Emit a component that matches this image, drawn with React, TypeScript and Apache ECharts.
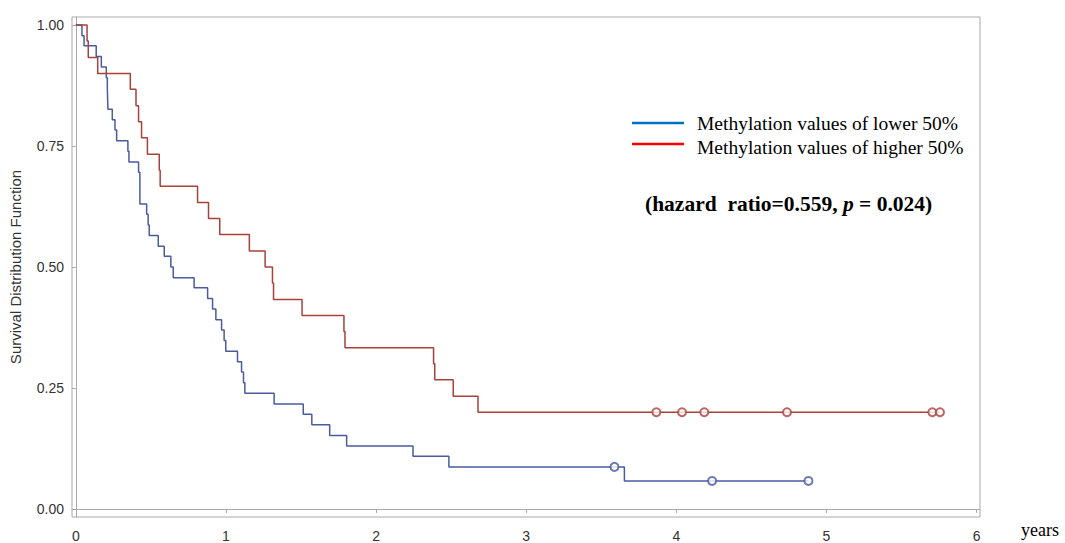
import React, { useEffect, useRef } from "react";
import * as echarts from "echarts";

// Kaplan–Meier curves (time in years, survival after each drop)
const lowerEventTimes = [0.041, 0.055, 0.136, 0.170, 0.203, 0.210, 0.214, 0.243, 0.261, 0.272, 0.347, 0.354, 0.418, 0.427, 0.472, 0.482, 0.489, 0.549, 0.589, 0.633, 0.649, 0.788, 0.878, 0.911, 0.933, 0.971, 0.988, 0.999, 1.077, 1.104, 1.117, 1.126, 1.321, 1.515, 1.572, 1.691, 1.804, 2.246, 2.485, 3.654];
const lowerEventSurv = [0.978, 0.957, 0.935, 0.913, 0.891, 0.870, 0.826, 0.804, 0.783, 0.761, 0.739, 0.717, 0.696, 0.630, 0.609, 0.587, 0.565, 0.543, 0.522, 0.500, 0.478, 0.457, 0.435, 0.413, 0.391, 0.370, 0.348, 0.326, 0.304, 0.283, 0.261, 0.239, 0.217, 0.196, 0.174, 0.152, 0.130, 0.109, 0.087, 0.058];
const lowerCensorTimes = [3.588, 4.238, 4.880];
const lowerCensorSurv = [0.087, 0.058, 0.058];

const higherEventTimes = [0.075, 0.083, 0.146, 0.363, 0.401, 0.418, 0.438, 0.477, 0.556, 0.562, 0.811, 0.884, 0.959, 1.156, 1.261, 1.310, 1.317, 1.507, 1.786, 1.793, 2.383, 2.391, 2.514, 2.679];
const higherEventSurv = [0.967, 0.933, 0.900, 0.867, 0.833, 0.800, 0.767, 0.733, 0.700, 0.667, 0.633, 0.600, 0.567, 0.533, 0.500, 0.467, 0.433, 0.400, 0.367, 0.333, 0.300, 0.267, 0.233, 0.200];
const higherCensorTimes = [3.867, 4.038, 4.186, 4.737, 5.705, 5.756];
const higherCensorSurv = [0.2, 0.2, 0.2, 0.2, 0.2, 0.2];

const xTicks = [0, 1, 2, 3, 4, 5, 6];
const yTicks = [0, 0.25, 0.5, 0.75, 1];

const legendLabels = ["Methylation values of lower 50%", "Methylation values of higher 50%"];

const BLUE = "#4a5b9e";
const RED = "#a8413a";

function buildCurve(et: number[], es: number[], ct: number[], cs: number[]) {
  const pts: [number, number][] = [[0, 1]];
  et.forEach((t, i) => pts.push([t, es[i]]));
  ct.forEach((t, i) => pts.push([t, cs[i]]));
  pts.sort((a, b) => a[0] - b[0]);
  return pts;
}

export default function App() {
  const ref = useRef<HTMLDivElement>(null);
  useEffect(() => {
    if (!ref.current) return;
    const chart = echarts.init(ref.current, undefined, { renderer: "svg" });
    const axisGrey = "#a9a9a9";
    const labelColor = "#333333";
    const sans = "'Liberation Sans', Arial, sans-serif";
    const serif = "'Liberation Serif', 'Times New Roman', serif";
    chart.setOption({
      animation: false,
      backgroundColor: "#ffffff",
      grid: {
        left: 71,
        top: 17,
        right: 85,
        bottom: 25,
        show: true,
        borderColor: axisGrey,
        borderWidth: 1,
        backgroundColor: "transparent",
      },
      xAxis: {
        type: "value",
        min: -0.0253,
        max: 6.0226,
        splitLine: { show: false },
        axisLine: { show: true, lineStyle: { color: axisGrey, width: 1 } },
        axisTick: { show: true, length: 4, lineStyle: { color: axisGrey }, customValues: xTicks },
        axisLabel: {
          customValues: xTicks,
          color: labelColor,
          fontFamily: sans,
          fontSize: 14,
          margin: 12,
          formatter: (v: number) => String(Math.round(v)),
        },
      },
      yAxis: {
        type: "value",
        min: -0.0165,
        max: 1.0165,
        name: "Survival Distribution Function",
        nameLocation: "middle",
        nameGap: 49,
        nameRotate: 90,
        nameTextStyle: { color: labelColor, fontFamily: sans, fontSize: 15 },
        splitLine: { show: false },
        axisLine: { show: true, lineStyle: { color: axisGrey, width: 1 } },
        axisTick: { show: true, length: 4, lineStyle: { color: axisGrey }, customValues: yTicks },
        axisLabel: {
          customValues: yTicks,
          color: labelColor,
          fontFamily: sans,
          fontSize: 14,
          margin: 8,
          formatter: (v: number) => v.toFixed(2),
        },
      },
      series: [
        {
          name: legendLabels[0],
          type: "line",
          step: "end",
          showSymbol: false,
          data: buildCurve(lowerEventTimes, lowerEventSurv, lowerCensorTimes, lowerCensorSurv),
          lineStyle: { color: BLUE, width: 1.5 },
          itemStyle: { color: BLUE },
          z: 2,
        },
        {
          name: legendLabels[1],
          type: "line",
          step: "end",
          showSymbol: false,
          data: buildCurve(higherEventTimes, higherEventSurv, higherCensorTimes, higherCensorSurv),
          lineStyle: { color: RED, width: 1.5 },
          itemStyle: { color: RED },
          z: 2,
        },
        {
          type: "scatter",
          symbol: "emptyCircle",
          symbolSize: 8,
          data: lowerCensorTimes.map((t, i) => [t, lowerCensorSurv[i]]),
          itemStyle: { color: BLUE, borderColor: BLUE, borderWidth: 1.4 },
          z: 3,
        },
        {
          type: "scatter",
          symbol: "emptyCircle",
          symbolSize: 8,
          data: higherCensorTimes.map((t, i) => [t, higherCensorSurv[i]]),
          itemStyle: { color: RED, borderColor: RED, borderWidth: 1.4 },
          z: 3,
        },
      ],
      graphic: [
        { type: "line", shape: { x1: 632, y1: 123, x2: 684, y2: 123 }, style: { stroke: "#0070c0", lineWidth: 2.5 } },
        { type: "line", shape: { x1: 632, y1: 144, x2: 684, y2: 144 }, style: { stroke: "#ff0000", lineWidth: 2.5 } },
        {
          type: "text",
          x: 697,
          y: 123,
          style: { text: legendLabels[0], fill: "#000", font: `19.5px ${serif}`, textVerticalAlign: "middle" },
        },
        {
          type: "text",
          x: 697,
          y: 147,
          style: { text: legendLabels[1], fill: "#000", font: `19.5px ${serif}`, textVerticalAlign: "middle" },
        },
        {
          type: "text",
          x: 645,
          y: 204,
          style: {
            text: "{b|(hazard  ratio=0.559, }{i|p}{b| = 0.024)}",
            textVerticalAlign: "middle",
            rich: {
              b: { fontFamily: serif, fontWeight: "bold", fontSize: 21.5, fill: "#000", color: "#000" },
              i: { fontFamily: serif, fontWeight: "bold", fontStyle: "italic", fontSize: 21.5, fill: "#000", color: "#000" },
            },
          },
        },
        {
          type: "text",
          x: 1021,
          y: 530,
          style: { text: "years", fill: "#000", font: `18px ${serif}`, textVerticalAlign: "middle" },
        },
      ],
    });
    return () => chart.dispose();
  }, []);
  return <div ref={ref} style={{ position: "fixed", left: 0, top: 0, width: 1065, height: 543 }} />;
}
